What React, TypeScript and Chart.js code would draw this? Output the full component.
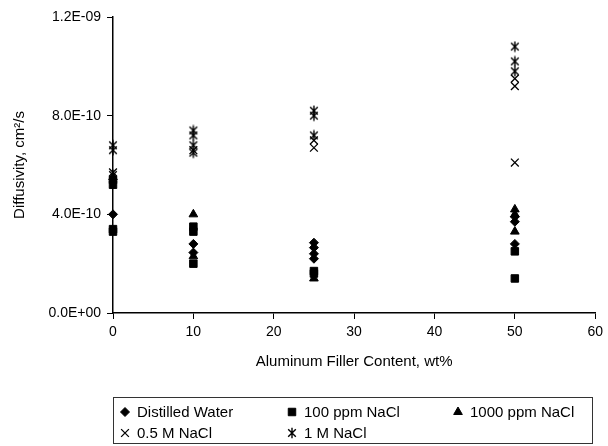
import React, { useEffect, useRef } from "react";
import { Chart, registerables } from "chart.js";
import { drawPoint } from "chart.js/helpers";

Chart.register(...registerables);

const SCALE = 1e-10;

const seriesNames = ["Distilled Water", "100 ppm NaCl", "1000 ppm NaCl", "0.5 M NaCl", "1 M NaCl"];

const distilledX = [0, 10, 10, 25, 25, 25, 25, 50, 50, 50];
const distilledY = [4.0, 2.8, 2.45, 2.85, 2.65, 2.4, 2.2, 3.9, 3.7, 2.8];

const ppm100X = [0, 0, 0, 0, 10, 10, 10, 25, 25, 50, 50];
const ppm100Y = [5.4, 5.2, 3.4, 3.3, 3.5, 3.3, 2.0, 1.7, 1.6, 2.5, 1.4];

const ppm1000X = [0, 10, 10, 25, 50, 50, 50];
const ppm1000Y = [5.5, 4.0, 2.3, 1.4, 4.2, 4.0, 3.3];

const halfMX = [0, 10, 25, 25, 50, 50, 50];
const halfMY = [5.7, 6.6, 7.0, 6.7, 9.5, 9.2, 6.1];

const oneMX = [0, 0, 0, 10, 10, 10, 10, 25, 25, 25, 50, 50, 50];
const oneMY = [6.8, 6.6, 5.6, 7.4, 7.2, 6.8, 6.5, 8.2, 8.0, 7.2, 10.8, 10.2, 9.8];

const xTicks = [0, 10, 20, 30, 40, 50, 60];
const yTicks = [0, 4e-10, 8e-10, 1.2e-9];

const FONT = "'Liberation Sans', Arial, sans-serif";

function toPoints(xs: number[], ys: number[]) {
  return xs.map((x, i) => ({ x, y: ys[i] * SCALE }));
}

function fmtExp(v: number) {
  const s = v.toExponential(1);
  const [m, e] = s.split("e");
  const sign = e[0] === "-" ? "-" : "+";
  const n = Math.abs(parseInt(e, 10));
  return `${m}E${sign}${String(n).padStart(2, "0")}`;
}

function makeAsterisk() {
  const c = document.createElement("canvas");
  c.width = 12;
  c.height = 12;
  const g = c.getContext("2d")!;
  g.strokeStyle = "#000";
  g.lineWidth = 1.4;
  g.beginPath();
  g.moveTo(6, 0.8);
  g.lineTo(6, 11.2);
  g.moveTo(2.2, 2.2);
  g.lineTo(9.8, 9.8);
  g.moveTo(9.8, 2.2);
  g.lineTo(2.2, 9.8);
  g.stroke();
  return c;
}

const legendBoxPlugin = {
  id: "legendBox",
  afterDraw(chart: any) {
    const ctx = chart.ctx;
    ctx.save();
    ctx.strokeStyle = "#333";
    ctx.lineWidth = 1;
    ctx.strokeRect(113.5, 397.5, 479, 46);
    const cols = [125, 292, 458];
    const rows = [412, 433];
    ctx.font = `15px ${FONT}`;
    ctx.textBaseline = "middle";
    ctx.textAlign = "left";
    chart.data.datasets.forEach((ds: any, i: number) => {
      const cx = cols[i % 3];
      const cy = rows[Math.floor(i / 3)];
      ctx.fillStyle = "#000";
      ctx.strokeStyle = "#000";
      ctx.lineWidth = ds.pointBorderWidth ?? 1;
      drawPoint(ctx, {
        pointStyle: ds.pointStyle,
        radius: ds.legendRadius ?? ds.pointRadius,
        rotation: 0,
        borderWidth: ds.pointBorderWidth ?? 1,
      } as any, cx, cy);
      ctx.fillStyle = "#000";
      ctx.fillText(ds.label, cx + 12, cy + 1);
    });
    ctx.restore();
  },
};

export default function App() {
  const ref = useRef<HTMLCanvasElement>(null);
  useEffect(() => {
    if (!ref.current) return;
    const star = makeAsterisk();
    const base = { backgroundColor: "#000", borderColor: "#000", pointBorderWidth: 1, showLine: false, clip: false };
    const chart = new Chart(ref.current, {
      type: "scatter",
      data: {
        datasets: [
          { ...base, label: seriesNames[0], data: toPoints(distilledX, distilledY), pointStyle: "rectRot", pointRadius: 4.5, legendRadius: 4.5 } as any,
          { ...base, label: seriesNames[1], data: toPoints(ppm100X, ppm100Y), pointStyle: "rect", pointRadius: 5.3, legendRadius: 5.3 } as any,
          { ...base, label: seriesNames[2], data: toPoints(ppm1000X, ppm1000Y), pointStyle: "triangle", pointRadius: 5, legendRadius: 5 } as any,
          { ...base, label: seriesNames[3], data: toPoints(halfMX, halfMY), pointStyle: "crossRot", pointRadius: 5.5, pointBorderWidth: 1.3, legendRadius: 5.5 } as any,
          { ...base, label: seriesNames[4], data: toPoints(oneMX, oneMY), pointStyle: star, pointRadius: 6, legendRadius: 6 } as any,
        ],
      },
      options: {
        responsive: false,
        animation: false,
        events: [],
        layout: { padding: { left: 0, right: 9, top: 17, bottom: 71 } },
        plugins: { legend: { display: false }, tooltip: { enabled: false } },
        scales: {
          x: {
            type: "linear",
            min: 0,
            max: 60,
            afterBuildTicks: (s: any) => { s.ticks = xTicks.map((v) => ({ value: v })); },
            afterFit: (s: any) => { s.height = 62; },
            grid: { display: true, drawOnChartArea: false, drawTicks: true, tickLength: 6, color: "#000", lineWidth: 1 },
            border: { display: true, color: "#000", width: 1.5 },
            ticks: { color: "#000", font: { family: FONT, size: 14 }, padding: 5, maxRotation: 0 },
            title: { display: true, text: "Aluminum Filler Content, wt%", color: "#000", font: { family: FONT, size: 15 }, padding: { top: 4, bottom: 4 } },
          },
          y: {
            type: "linear",
            min: 0,
            max: 1.2e-9,
            afterBuildTicks: (s: any) => { s.ticks = yTicks.map((v) => ({ value: v })); },
            afterFit: (s: any) => { s.width = 113; },
            grid: { display: true, drawOnChartArea: false, drawTicks: true, tickLength: 6, color: "#000", lineWidth: 1 },
            border: { display: true, color: "#000", width: 1.5 },
            ticks: { color: "#000", font: { family: FONT, size: 14 }, padding: 6, callback: (v: any) => fmtExp(Number(v)) },
            title: { display: true, text: "Diffusivity, cm²/s", color: "#000", font: { family: FONT, size: 15 }, padding: { top: 11, bottom: 0 } },
          },
        },
      } as any,
      plugins: [legendBoxPlugin],
    });
    return () => chart.destroy();
  }, []);
  return (
    <div style={{ position: "fixed", left: 0, top: 0, width: 608, height: 446, background: "#fff" }}>
      <canvas ref={ref} width={608} height={446} style={{ display: "block" }} />
    </div>
  );
}
